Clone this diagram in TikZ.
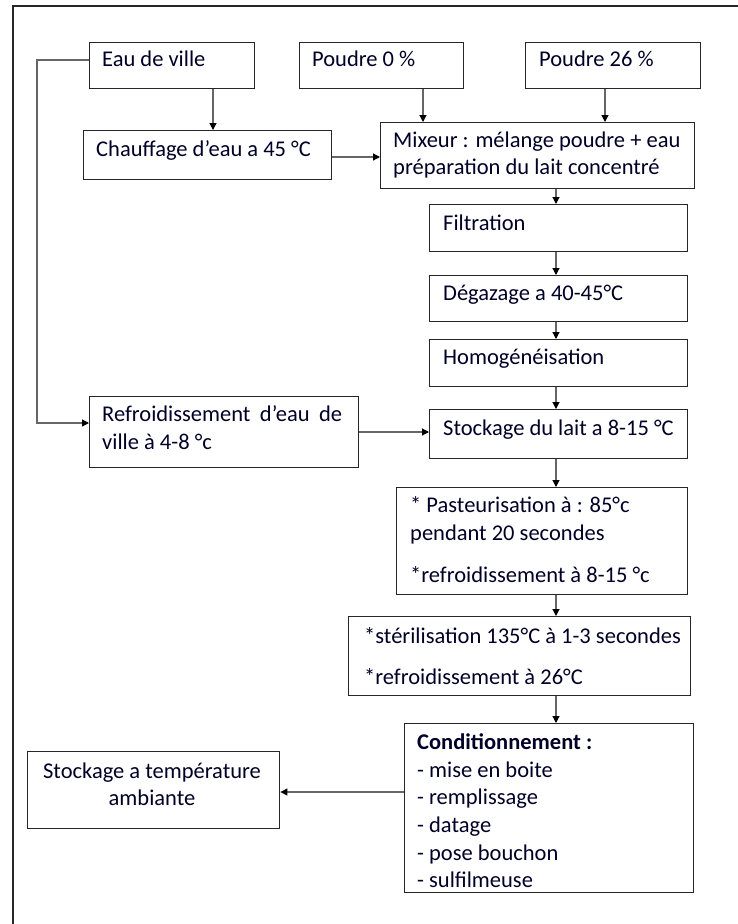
\documentclass[tikz,border=0pt]{standalone}
\usepackage{fontspec}
\setmainfont{Carlito}
\usetikzlibrary{arrows.meta}
\begin{document}
\begin{tikzpicture}[x=1pt,y=-1pt,
  box/.style={draw=black!85,line width=1.4pt,inner sep=0pt,anchor=north west},
  txt/.style={anchor=base west,inner sep=0pt,text=black!85!blue,font=\fontsize{22.5}{27}\selectfont},
  ctxt/.style={anchor=base,inner sep=0pt,text=black!85!blue,font=\fontsize{22.5}{27}\selectfont},
  flow/.style={draw=black!60,line width=1.1pt,-{Triangle[length=7pt,width=7pt,color=black]}}]
\useasboundingbox (0,0) rectangle (737,924);
% outer frame
\draw[line width=1.4pt,black!85] (13,930) -- (13,6) -- (740,6);

% boxes
\node[box,minimum width=165pt,minimum height=46pt] (eau) at (89,42) {};
\node[box,minimum width=164pt,minimum height=46pt] (p0) at (299,42) {};
\node[box,minimum width=175pt,minimum height=46pt] (p26) at (525,42) {};
\node[box,minimum width=248pt,minimum height=49pt] (chauf) at (83,130) {};
\node[box,minimum width=314pt,minimum height=66pt] (mix) at (380,122) {};
\node[box,minimum width=258pt,minimum height=47pt] (filt) at (429,204) {};
\node[box,minimum width=258pt,minimum height=46pt] (deg) at (429,275) {};
\node[box,minimum width=258pt,minimum height=47pt] (homo) at (429,339) {};
\node[box,minimum width=269pt,minimum height=71pt] (refr) at (89,396) {};
\node[box,minimum width=258pt,minimum height=49pt] (stock) at (429,409) {};
\node[box,minimum width=291pt,minimum height=107pt] (past) at (396,487) {};
\node[box,minimum width=342pt,minimum height=79pt] (ster) at (348,616) {};
\node[box,minimum width=289pt,minimum height=169pt] (cond) at (404,723) {};
\node[box,minimum width=252pt,minimum height=77pt] (amb) at (27,751) {};

% texts
\node[txt] (teau) at (102,66) {Eau de ville};
\node[txt] (tp0) at (312,66) {Poudre 0 \%};
\node[txt] (tp26) at (539,66) {Poudre 26 \%};
\node[txt] (tchauf) at (96,156) {Chauffage d’eau a 45 °C};
\node[txt] (tmix1) at (393,147) {Mixeur : mélange poudre + eau};
\node[txt] (tmix2) at (393,174) {préparation du lait concentré};
\node[txt] (tfilt) at (443,230) {Filtration};
\node[txt] (tdeg) at (443,300) {Dégazage a 40-45°C};
\node[txt] (thomo) at (443,364) {Homogénéisation};
\node[txt] (trefr1) at (102,421) {\makebox[240pt][s]{Refroidissement d’eau de}};
\node[txt] (trefr2) at (102,449) {ville à 4-8 °c};
\node[txt] (tstock) at (443,435) {Stockage du lait a 8-15 °C};
\node[txt] (tpast1) at (410,512) {* Pasteurisation à : 85°c};
\node[txt] (tpast2) at (410,540) {pendant 20 secondes};
\node[txt] (tpast3) at (410,582) {*refroidissement à 8-15 °c};
\node[txt] (tster1) at (364,643) {*stérilisation 135°C à 1-3 secondes};
\node[txt] (tster2) at (364,684) {*refroidissement à 26°C};
\node[txt] (tcond1) at (417,749) {\bfseries Conditionnement :};
\node[txt] (tcond2) at (417,777) {- mise en boite};
\node[txt] (tcond3) at (417,804) {- remplissage};
\node[txt] (tcond4) at (417,832) {- datage};
\node[txt] (tcond5) at (417,860) {- pose bouchon};
\node[txt] (tcond6) at (417,887) {- sulfilmeuse};
\node[ctxt] (tamb1) at (152,778) {Stockage a température};
\node[ctxt] (tamb2) at (152,805) {ambiante};

% guide coordinates
\coordinate (xA) at (213,0);
\coordinate (xB) at (423,0);
\coordinate (xC) at (605,0);
\coordinate (xM) at (556,0);
\coordinate (xL) at (37,0);
\coordinate (yE) at (0,60);
\coordinate (yCh) at (0,157);
\coordinate (yLo) at (0,423);
\coordinate (yRe) at (0,432);
\coordinate (yCo) at (0,792);

% connectors
\draw[flow] (eau.south -| xA) -- (chauf.north -| xA);
\draw[flow] (p0.south -| xB) -- (mix.north -| xB);
\draw[flow] (p26.south -| xC) -- (mix.north -| xC);
\draw[flow] (chauf.east |- yCh) -- (mix.west |- yCh);
\draw[flow] (eau.west |- yE) -- (xL |- yE) -- (xL |- yLo) -- (refr.west |- yLo);
\draw[flow] (mix.south -| xM) -- (filt.north -| xM);
\draw[flow] (filt.south -| xM) -- (deg.north -| xM);
\draw[flow] (deg.south -| xM) -- (homo.north -| xM);
\draw[flow] (homo.south -| xM) -- (stock.north -| xM);
\draw[flow] (refr.east |- yRe) -- (stock.west |- yRe);
\draw[flow] (stock.south -| xM) -- (past.north -| xM);
\draw[flow] (past.south -| xM) -- (ster.north -| xM);
\draw[flow] (ster.south -| xM) -- (cond.north -| xM);
\draw[flow] (cond.west |- yCo) -- (amb.east |- yCo);
\end{tikzpicture}
\end{document}
